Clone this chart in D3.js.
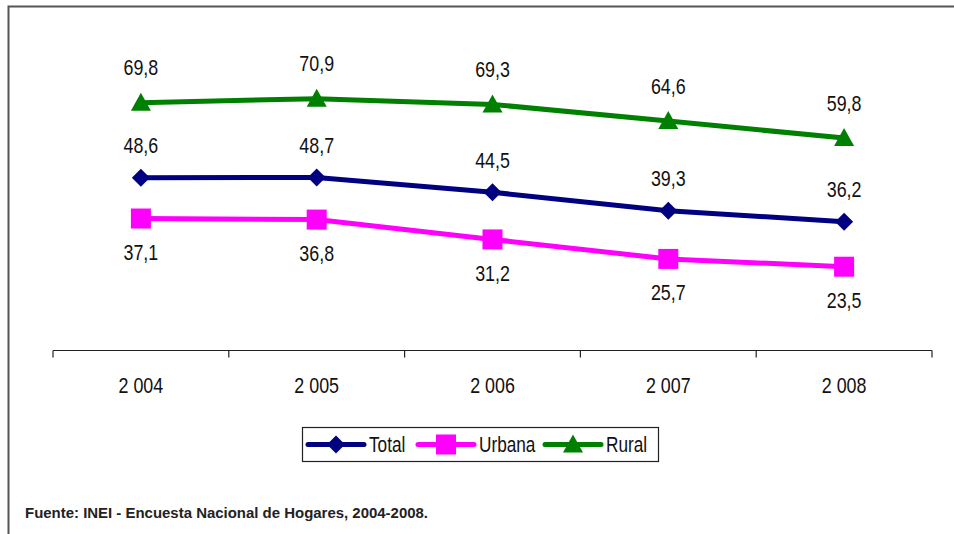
<!DOCTYPE html>
<html>
<head>
<meta charset="utf-8">
<script src="https://cdn.jsdelivr.net/npm/d3@7"></script>
<style>
  body { margin: 0; background: #fff; }
  svg { display: block; }
  text { font-family: "Liberation Sans", Arial, sans-serif; }
</style>
</head>
<body>
<svg id="chart" width="954" height="534"></svg>
<script>
var years = ["2 004", "2 005", "2 006", "2 007", "2 008"];
var total = [48.6, 48.7, 44.5, 39.3, 36.2];
var urbana = [37.1, 36.8, 31.2, 25.7, 23.5];
var rural = [69.8, 70.9, 69.3, 64.6, 59.8];
var seriesNames = ["Total", "Urbana", "Rural"];
var sourceNote = "Fuente: INEI - Encuesta Nacional de Hogares, 2004-2008.";

var svg = d3.select("#chart");

// outer frame (only top and left visible in the original)
svg.append("path")
    .attr("d", "M8.5,534 V6.5 H954")
    .attr("fill", "none")
    .attr("stroke", "#555")
    .attr("stroke-width", 2);

var x = d3.scaleBand().domain(years).range([53, 932]).padding(0);
var y = d3.scaleLinear().domain([0, 80]).range([350, 350 - 80 * 3.544]);

var fmt = function(v) { return d3.format(".1f")(v).replace(".", ","); };

// narrow the text like Arial Narrow
function narrow(sel, k) {
    sel.each(function() {
        var w = this.getComputedTextLength();
        d3.select(this).attr("textLength", w * k).attr("lengthAdjust", "spacingAndGlyphs");
    });
}

// x axis
var axis = svg.append("g").attr("transform", "translate(0,350.5)");
axis.append("line")
    .attr("x1", 53).attr("x2", 932)
    .attr("stroke", "#222").attr("stroke-width", 1.2);
axis.selectAll("line.tick")
    .data(d3.range(years.length + 1))
    .enter().append("line")
    .attr("class", "tick")
    .attr("x1", function(i) { return i < years.length ? x(years[i]) : x.range()[1]; })
    .attr("x2", function(i) { return i < years.length ? x(years[i]) : x.range()[1]; })
    .attr("y1", 0).attr("y2", 7)
    .attr("stroke", "#222").attr("stroke-width", 1.2);
axis.selectAll("text")
    .data(years)
    .enter().append("text")
    .attr("x", function(d) { return x(d) + x.bandwidth() / 2; })
    .attr("y", 42.5)
    .attr("text-anchor", "middle")
    .attr("font-size", "21.5px")
    .attr("fill", "#111")
    .text(function(d) { return d; })
    .call(narrow, 0.83);

var cx = function(d, i) { return x(years[i]) + x.bandwidth() / 2; };

var series = [
    {name: "Total", values: total, color: "#000080", shape: "diamond", dy: -32},
    {name: "Urbana", values: urbana, color: "#ff00ff", shape: "square", dy: 34},
    {name: "Rural", values: rural, color: "#008000", shape: "triangle", dy: -35}
];

function markerPath(shape) {
    if (shape == "diamond") return "M0,-9L9,0L0,9L-9,0Z";
    if (shape == "square") return "M-10,-10H10V10H-10Z";
    return "M0,-10L10,8H-10Z";
}

var line = d3.line().x(cx).y(function(d) { return y(d); });

series.forEach(function(s) {
    var g = svg.append("g");
    g.append("path")
        .attr("d", line(s.values))
        .attr("fill", "none")
        .attr("stroke", s.color)
        .attr("stroke-width", 5);
    g.selectAll("path.mk")
        .data(s.values)
        .enter().append("path")
        .attr("class", "mk")
        .attr("d", markerPath(s.shape))
        .attr("transform", function(d, i) { return "translate(" + cx(d, i) + "," + y(d) + ")"; })
        .attr("fill", s.color);
    g.selectAll("text")
        .data(s.values)
        .enter().append("text")
        .attr("x", cx)
        .attr("y", function(d) { return y(d) + s.dy; })
        .attr("dy", "0.35em")
        .attr("text-anchor", "middle")
        .attr("font-size", "21.5px")
        .attr("fill", "#111")
        .text(fmt)
        .call(narrow, 0.83);
});

// legend
var legend = svg.append("g");
legend.append("rect")
    .attr("x", 302.5).attr("y", 427.5)
    .attr("width", 356).attr("height", 34)
    .attr("fill", "#fff").attr("stroke", "#222").attr("stroke-width", 1.2);
var legendX = [308, 418, 545];
series.forEach(function(s, i) {
    var lg = legend.append("g").attr("transform", "translate(" + legendX[i] + ",444.5)");
    lg.append("line")
        .attr("x1", 0).attr("x2", 56)
        .attr("stroke", s.color).attr("stroke-width", 5)
        .attr("stroke-linecap", "round");
    lg.append("path")
        .attr("d", markerPath(s.shape))
        .attr("transform", "translate(28,0)")
        .attr("fill", s.color);
    lg.append("text")
        .attr("x", 61).attr("y", 0).attr("dy", "0.35em")
        .attr("font-size", "21.5px")
        .attr("fill", "#111")
        .text(seriesNames[i])
        .call(narrow, 0.8);
});

// source note
svg.append("text")
    .attr("x", 25).attr("y", 517.5)
    .attr("font-size", "15.5px")
    .attr("font-weight", "bold")
    .attr("fill", "#222")
    .text(sourceNote)
    .attr("textLength", 403)
    .attr("lengthAdjust", "spacingAndGlyphs");
</script>
</body>
</html>
